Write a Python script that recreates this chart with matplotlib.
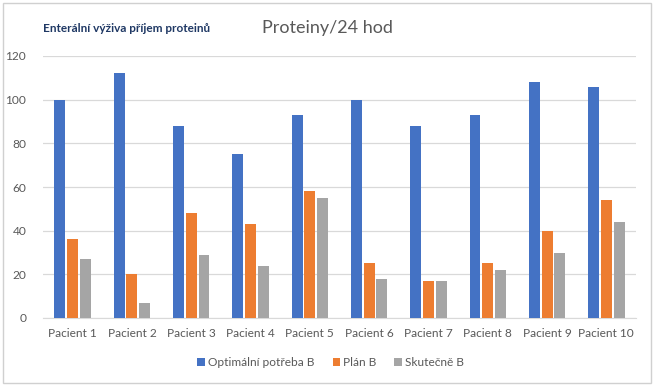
import numpy as np
import matplotlib.pyplot as plt
from matplotlib.patches import Rectangle

plt.rcParams['font.family'] = ['Lato', 'DejaVu Sans']

# Data
patients = ['Pacient 1', 'Pacient 2', 'Pacient 3', 'Pacient 4', 'Pacient 5',
            'Pacient 6', 'Pacient 7', 'Pacient 8', 'Pacient 9', 'Pacient 10']
optimal = [100, 112, 88, 75, 93, 100, 88, 93, 108, 106]
plan = [36, 20, 48, 43, 58, 25, 17, 25, 40, 54]
actual = [27, 7, 29, 24, 55, 18, 17, 22, 30, 44]

series_names = ['Optimální potřeba B', 'Plán B', 'Skutečně B']
colors = ['#4472C4', '#ED7D31', '#A5A5A5']
text_col = '#595959'

fig = plt.figure(figsize=(6.55, 3.88), dpi=100)
ax = fig.add_axes([43 / 655, 1 - 318 / 388, 593 / 655, 262 / 388])

x = np.arange(len(patients))
w = 0.185
step = 0.215
for i, (vals, name, c) in enumerate(zip([optimal, plan, actual], series_names, colors)):
    ax.bar(x + (i - 1) * step, vals, width=w, color=c, label=name, zorder=3)

ax.set_xlim(-0.5, len(patients) - 0.5)
ax.set_ylim(0, 120)
ax.set_yticks(np.arange(0, 121, 20))
ax.set_xticks(x)
ax.set_xticklabels(patients)
ax.grid(axis='y', color='#D9D9D9', linewidth=0.9, zorder=0)
for s in ['top', 'right', 'left']:
    ax.spines[s].set_visible(False)
ax.spines['bottom'].set_color('#D9D9D9')
ax.tick_params(axis='both', length=0, labelsize=8.6, colors=text_col)
ax.tick_params(axis='y', pad=12)
ax.tick_params(axis='x', pad=7)

fig.text(0.5, 1 - 28 / 388, 'Proteiny/24 hod', ha='center', va='center',
         fontsize=13, color=text_col)
fig.text(43 / 655, 1 - 29 / 388, 'Enterální výživa příjem proteinů', ha='left',
         va='center', fontsize=8.5, fontweight='bold', color='#1F3864')

fig.legend(loc='center', bbox_to_anchor=(0.505, 1 - 363 / 388), ncol=3, frameon=False,
           fontsize=8.6, labelcolor=text_col, handlelength=0.65, handleheight=0.65,
           handletextpad=0.25, columnspacing=1.5)

fig.patches.append(Rectangle((3 / 655, 5 / 388), 648 / 655, 380 / 388,
                             transform=fig.transFigure, fill=False,
                             edgecolor='#D0D0D0', linewidth=1))

fig.savefig('out.png', dpi=100)
